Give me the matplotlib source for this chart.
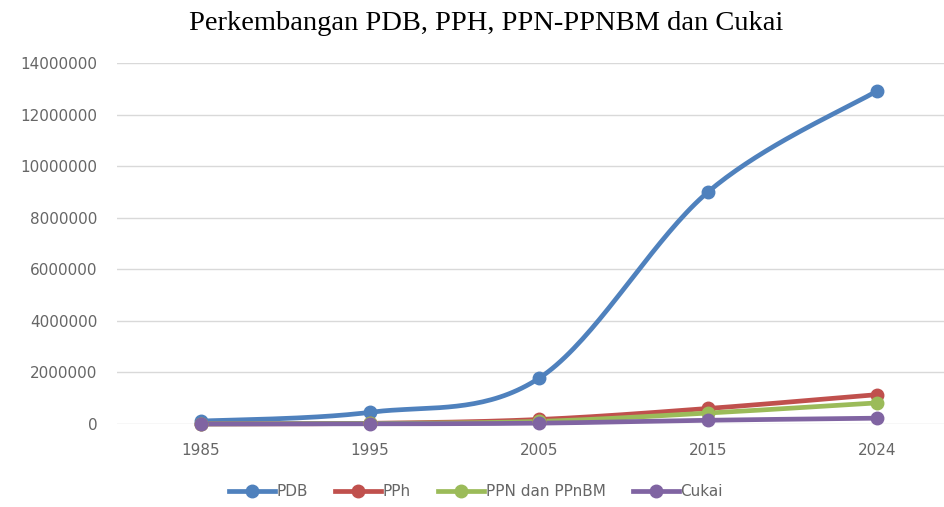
import numpy as np
import matplotlib
matplotlib.use("Agg")
import matplotlib.pyplot as plt

# data
years = ["1985", "1995", "2005", "2015", "2024"]
pdb = [112000, 454000, 1774000, 9000000, 12920000]
pph = [2300, 26000, 175000, 602000, 1139000]
ppn = [2900, 22000, 101000, 424000, 819000]
cukai = [1000, 5000, 33000, 145000, 226000]

series = [
    ("PDB", pdb, "#4F81BD"),
    ("PPh", pph, "#C0504D"),
    ("PPN dan PPnBM", ppn, "#9BBB59"),
    ("Cukai", cukai, "#8064A2"),
]


def smooth(x, y, n=40):
    # Catmull-Rom style smoothing, like Excel's "smoothed line"
    x = np.asarray(x, float)
    y = np.asarray(y, float)
    px = np.concatenate([[x[0]], x, [x[-1]]])
    py = np.concatenate([[y[0]], y, [y[-1]]])
    xs, ys = [], []
    for i in range(1, len(x)):
        p0 = np.array([px[i], py[i]])
        p3 = np.array([px[i + 1], py[i + 1]])
        p1 = p0 + (np.array([px[i + 1], py[i + 1]]) - np.array([px[i - 1], py[i - 1]])) / 6
        p2 = p3 - (np.array([px[i + 2], py[i + 2]]) - np.array([px[i], py[i]])) / 6
        t = np.linspace(0, 1, n)[:, None]
        pts = (1 - t) ** 3 * p0 + 3 * (1 - t) ** 2 * t * p1 + 3 * (1 - t) * t ** 2 * p2 + t ** 3 * p3
        xs.extend(pts[:, 0])
        ys.extend(pts[:, 1])
    return np.array(xs), np.array(ys)


W, H = 945, 507
fig = plt.figure(figsize=(W / 100, H / 100), dpi=100)
ax = fig.add_axes([117 / W, 1 - 424 / H, (945 - 117) / W, (424 - 63) / H])

xpos = np.arange(len(years))
handles = []
for name, vals, col in series:
    sx, sy = smooth(xpos, vals)
    ax.plot(sx, sy, color=col, lw=3.4, solid_capstyle="round", clip_on=False, zorder=3)
    ax.plot(xpos, vals, "o", color=col, ms=9, clip_on=False, zorder=4)
    h, = ax.plot([], [], color=col, lw=3.4, marker="o", ms=9, label=name)
    handles.append(h)

ax.set_xlim(-0.497, 4.402)
ax.set_ylim(0, 14000000)
ax.set_yticks(np.arange(0, 14000001, 2000000))
ax.set_yticklabels([str(v) for v in range(0, 14000001, 2000000)])
ax.set_xticks(xpos)
ax.set_xticklabels(years)
ax.grid(axis="y", color="#D9D9D9", lw=1)
ax.set_axisbelow(True)
for s in ax.spines.values():
    s.set_visible(False)
ax.tick_params(axis="both", length=0, labelsize=11, labelcolor="#666666")
ax.tick_params(axis="y", pad=14)
ax.tick_params(axis="x", pad=14)

fig.text(486 / W, 1 - 24 / H, "Perkembangan PDB, PPH, PPN-PPNBM dan Cukai",
         ha="center", va="center", family="Liberation Serif", fontsize=20.5)

fig.legend(handles=handles, loc="center", bbox_to_anchor=(476 / W, 1 - 492 / H),
           ncol=4, frameon=False, fontsize=11, handlelength=3.0, handletextpad=0.1,
           columnspacing=1.8, labelcolor="#666666")

fig.savefig("out.png", dpi=100)
